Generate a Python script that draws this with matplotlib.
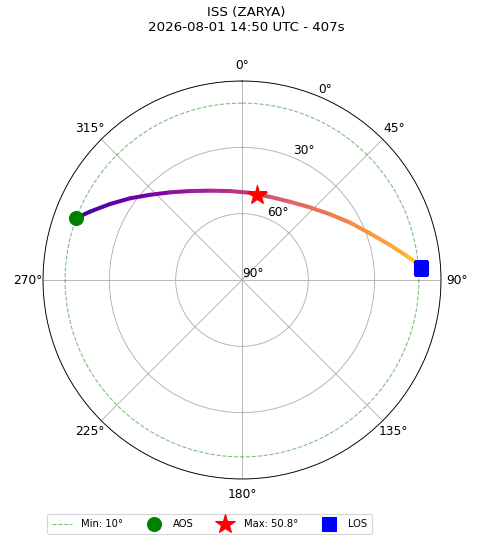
import numpy as np
import matplotlib
matplotlib.use("Agg")
import matplotlib.pyplot as plt
from matplotlib.collections import LineCollection
from matplotlib.lines import Line2D

# pass data (azimuth deg, elevation deg)
track_az = [290.5, 294.2, 299.9, 306.1, 312.8, 320.6, 329.7, 340.3, 352.3, 5.2,
            10.0, 18.6, 31.5, 43.1, 53.3, 62.0, 70.0, 76.7, 81.7, 84.0, 86.0]
track_el = [10.0, 14.6, 21.1, 27.3, 33.3, 38.7, 43.4, 47.1, 49.4, 50.4,
            50.8, 50.3, 48.5, 45.0, 40.3, 34.7, 28.4, 21.2, 14.7, 11.3, 9.0]

aos_az, aos_el = 290.5, 10.0
max_az, max_el = 10.0, 50.8
los_az, los_el = 86.0, 9.0
min_el = 10

title = "ISS (ZARYA)\n2026-08-01 14:50 UTC - 407s"
theta_ticks = [0, 45, 90, 135, 180, 225, 270, 315]
r_ticks = [0, 30, 60, 90]
r_labels = ["90°", "60°", "30°", "0°"]

fig = plt.figure(figsize=(6, 543 / 80), dpi=80)
ax = fig.add_axes([43 / 480, 64 / 543, 398 / 480, 398 / 543], projection="polar")
ax.set_theta_zero_location("N")
ax.set_theta_direction(-1)

# track coloured by time along the pass
theta = np.unwrap(np.radians(track_az))
r = 90 - np.array(track_el)
pts = np.column_stack([theta, r]).reshape(-1, 1, 2)
segs = np.concatenate([pts[:-1], pts[1:]], axis=1)
cols = plt.cm.plasma(np.linspace(0.1, 0.9, len(segs)))
lc = LineCollection(segs, colors=cols, linewidths=3.6, capstyle="round", zorder=3)
ax.add_collection(lc)

# min elevation ring
ring = np.linspace(0, 2 * np.pi, 361)
ax.plot(ring, np.full_like(ring, 90 - min_el), "g--", alpha=0.5, lw=1)

ax.plot(np.radians(aos_az), 90 - aos_el, "o", color="green", ms=12.5, zorder=5)
ax.plot(np.radians(max_az), 90 - max_el, "*", color="red", ms=18, zorder=5)
ax.plot(np.radians(los_az), 90 - los_el, "s", color="blue", ms=12.5, zorder=5)

ax.set_ylim(0, 90)
ax.set_yticks(r_ticks)
ax.set_yticklabels(r_labels, fontsize=11)
ax.set_thetagrids(theta_ticks, [f"{t}°" for t in theta_ticks], fontsize=11)
ax.grid(True, color="#b0b0b0", lw=0.8)

fig.text(246 / 480, 1 - 6 / 543, title, ha="center", va="top", fontsize=12)

handles = [
    Line2D([], [], color="green", ls="--", alpha=0.5, lw=1, label=f"Min: {min_el}°"),
    Line2D([], [], color="green", marker="o", ls="", ms=12.5, label="AOS"),
    Line2D([], [], color="red", marker="*", ls="", ms=18, label=f"Max: {max_el}°"),
    Line2D([], [], color="blue", marker="s", ls="", ms=12.5, label="LOS"),
]
fig.legend(handles=handles, loc="lower left", bbox_to_anchor=(47 / 480, 9 / 543),
           ncol=4, fontsize=9, borderaxespad=0, borderpad=0.5,
           handletextpad=0.9, columnspacing=2.1)

fig.savefig("out.png", dpi=80)
